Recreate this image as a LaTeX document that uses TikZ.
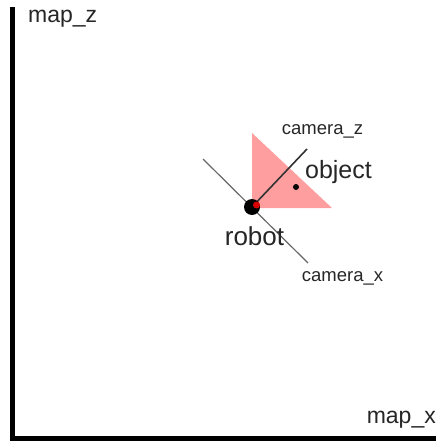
\documentclass[tikz,border=0pt]{standalone}
\usepackage{fontspec}
\setmainfont{Liberation Sans}
\begin{document}
\begin{tikzpicture}[x=1pt,y=-1pt,
  label text/.style={inner sep=0pt, text=black!85},
  map axis/.style={line width=5pt, black, line cap=butt, line join=miter},
  cam z axis/.style={line width=1.6pt, black!80},
  cam x axis/.style={line width=1.2pt, black!60}]
% fixed page size
\useasboundingbox (0,0) rectangle (436,441);

% map axes: one L-shaped stroke
\coordinate (ztop) at (12.5,7);
\coordinate (corner) at (12.5,438.5);
\coordinate (xend) at (436,438.5);
\draw[map axis] (ztop) -- (corner) -- (xend);
\node[label text, anchor=west, font=\fontsize{23pt}{23pt}\selectfont] (mapz) at (28,19) {map\_z};
\node[label text, anchor=east, font=\fontsize{23pt}{23pt}\selectfont] (mapx) at (436,420) {map\_x};

% camera field of view
\coordinate (robotpos) at (252,207);
\fill[red!38] (252,133) -- (252,208) -- (332,208) -- cycle;

% camera axes
\coordinate (xa) at (203,159);
\coordinate (xb) at (308,263);
\coordinate (ztip) at (307,149);
\draw[cam x axis] (xa) -- (xb);
\draw[cam z axis] (robotpos) -- (ztip);

% robot and object
\fill[black] (robotpos) circle[radius=8pt];
\fill[red!85!black] (256.5,205) circle[radius=3.5pt];
\fill[black] (296,187) circle[radius=3pt];

% labels
\node[label text, font=\fontsize{18.5pt}{18.5pt}\selectfont] (camzl) at (322.5,131) {camera\_z};
\node[label text, font=\fontsize{25pt}{25pt}\selectfont] (objl) at (338.5,172) {object};
\node[label text, font=\fontsize{26pt}{26pt}\selectfont] (robotl) at (254.5,236) {robot};
\node[label text, font=\fontsize{18.5pt}{18.5pt}\selectfont] (camxl) at (342.5,278) {camera\_x};
\end{tikzpicture}
\end{document}
